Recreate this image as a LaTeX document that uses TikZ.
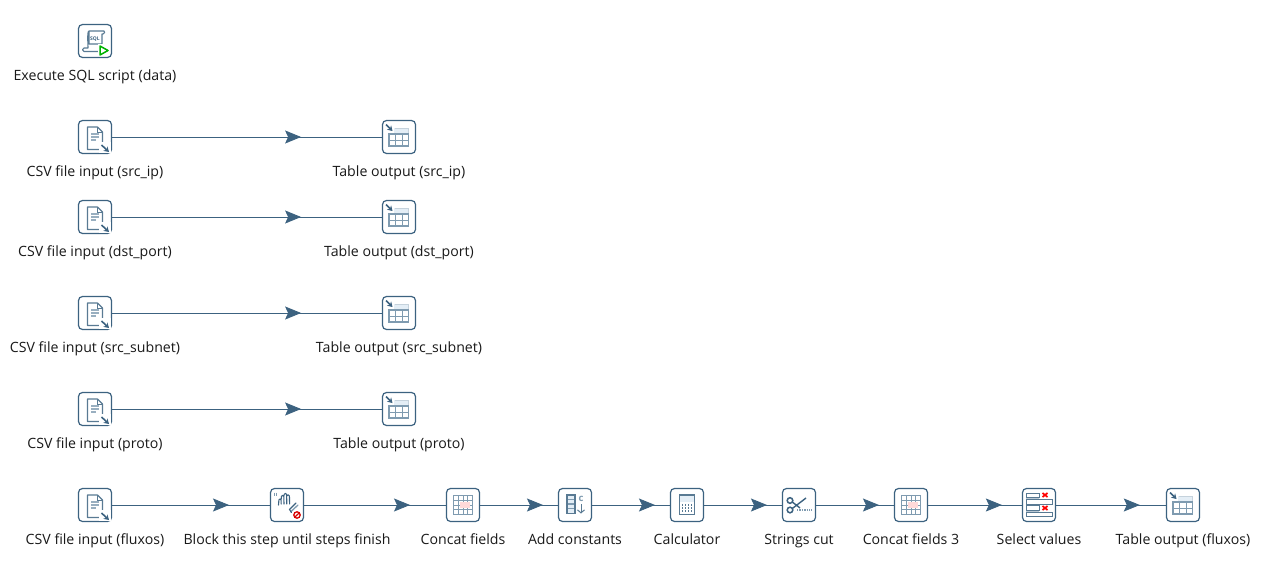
\documentclass[tikz,border=0pt]{standalone}
\usepackage{fontspec}
\setmainfont{Open Sans}
\usetikzlibrary{arrows.meta,decorations.markings,backgrounds}
\definecolor{hop}{HTML}{3C6280}
\definecolor{gl}{HTML}{7F9BB0}
\definecolor{pale}{HTML}{E4EEF6}
\tikzset{
  x=1pt,y=-1pt,
  stepbox/.style={draw=hop,line width=1.2pt,fill=white,rounded corners=4pt,minimum size=33pt,inner sep=0pt,outer sep=0pt},
  lbl/.style={font=\fontsize{14.15}{16}\selectfont,text=black!90,inner sep=0pt,anchor=base},
  link/.style={draw=hop,line width=.85pt,postaction={decorate},decoration={markings,mark=at position #1 with {\arrow[hop]{Stealth[length=16pt,width=13pt,inset=3pt]}}}},
  ic/.style={draw=hop!85,line width=1.2pt},
  ig/.style={draw=gl,line width=1.2pt},
  icsv/.pic={
    \draw[ic,fill=white,line join=round] (-7.5,-10)--(2.5,-10)--(7.5,-5)--(7.5,12.5)--(-7.5,12.5)--cycle;
    \draw[ic,line width=.9pt] (2.5,-10)--(2.5,-5)--(7.5,-5);
    \draw[ig,line width=1.1pt,draw=gl!80] (-4,-3)--(4,-3) (-4,0)--(4,0) (-4,3)--(1,3);
    \fill[white] (4,5) rectangle (16,16.3);
    \draw[hop,line width=1.6pt,-{Stealth[length=5pt,width=6pt]}] (6.5,8)--(14,15);
  },
  itab/.pic={
    \fill[pale] (-10,-9)--(9.5,-9)--(9.5,-3)--(-10,-3)--cycle;
    \draw[gl!45,line width=1pt] (-4,-9)--(9.5,-9)--(9.5,-3);
    \draw[ig] (-10,-3)--(9.5,-3)--(9.5,9)--(-10,9)--cycle;
    \draw[ig,line width=1pt] (-3.5,-3)--(-3.5,9) (3,-3)--(3,9) (-10,3)--(9.5,3);
    \fill[white] (-14,-13) rectangle (-5,-4.5);
    \draw[hop,line width=1.6pt,-{Stealth[length=5pt,width=6pt]}] (-13,-12.5)--(-6.5,-6);
  },
  iconcat/.pic={
    \fill[white] (-9.5,-9.5) rectangle (9.5,9.5);
    \draw[gl,line width=1pt] (-4.75,-9.5)--(-4.75,9.5) (0,-9.5)--(0,9.5) (4.75,-9.5)--(4.75,9.5)
      (-9.5,-4.75)--(9.5,-4.75) (-9.5,0)--(9.5,0) (-9.5,4.75)--(9.5,4.75);
    \fill[red!15] (-3,-3) rectangle (7,3);
    \draw[gl,line width=1.9pt] (-9.5,-9.5) rectangle (9.5,9.5);
  },
  iblock/.pic={
    \draw[gl,line width=1.1pt] (-12.5,-12.5)--(-12.5,-9) (-10.5,-12.5)--(-10.5,-9);
    \draw[hop,line width=1.1pt,line cap=round,line join=round,rounded corners=1pt]
      (-8.5,0)--(-8,-6)--(-6,-6)--(-5.8,-1) (-5.8,-6)--(-5.5,-9.5)--(-3.2,-9.5)--(-3,-1)
      (-3,-9.5)--(-2.7,-11.5)--(-.4,-11.5)--(-.2,-1) (-.2,-9.5)--(0,-10)--(2.4,-10)--(2.6,-1);
    \draw[gl,line width=1.3pt,line cap=round] (11,0)--(3.5,7);
    \draw[hop,line width=1.1pt,line cap=round] (9,-2)--(2.5,4.5)--(4.5,7.5);
    \draw[red!85!black,line width=1.3pt,fill=white] (10,10) circle (3.2);
    \draw[red!85!black,line width=1.2pt] (7.8,12)--(12.2,8);
  },
  iconst/.pic={
    \fill[pale] (-8,-10) rectangle (0,8.5);
    \draw[gl,line width=1.1pt] (-8,-5.5)--(0,-5.5) (-8,-1)--(0,-1) (-8,3.5)--(0,3.5);
    \draw[hop!85,line width=1.2pt] (-8,-10) rectangle (0,8.5);
    \node[font=\bfseries\fontsize{9.5}{9}\selectfont,text=gl,inner sep=0pt] at (6,-6.5) {c};
    \draw[hop!85,line width=1pt,-{Straight Barb[length=3pt,width=7pt]}] (6,-1)--(6,8.5);
  },
  icalc/.pic={
    \fill[pale] (-7.5,-10) rectangle (7.5,-3);
    \draw[hop!85,line width=1.2pt] (-7.5,-10) rectangle (7.5,9.5);
    \foreach \yy in {0,3,6} \foreach \xx in {-4.5,-1.5,1.5,4.5}
      \fill[hop!85] (\xx-.6,\yy-.6) rectangle (\xx+.6,\yy+.6);
  },
  iscis/.pic={
    \draw[hop,line width=1.5pt] (-9,-4.5) circle (2.8) (-9,5) circle (2.8);
    \draw[hop,line width=1.4pt] (-6.7,-3)--(1,3) (-6.7,3.5)--(7,-7);
    \draw[gl,line width=1.5pt,dash pattern=on 1.3pt off 1.1pt] (-2,5)--(13,5);
  },
  iselect/.pic={
    \fill[gl!55] (-13,-8) rectangle (0,-5.5) (-13,-1) rectangle (0,.5) (-13,5) rectangle (0,7);
    \draw[hop!85,line width=1pt] (-13,-12) rectangle (0,-8)  (-13,-5.5) rectangle (13,-1)
      (-13,.5) rectangle (0,5)  (-13,7) rectangle (13,11.5);
    \draw[red,line width=1.7pt] (3.5,-12)--(8.5,-8) (3.5,-8)--(8.5,-12) (3.5,1)--(8.5,5) (3.5,5)--(8.5,1);
  },
  isql/.pic={
    \draw[ic,line width=1.1pt,fill=white,line join=round] (-6,-10)--(9,-10)
      .. controls (10,-10) and (10,-7) .. (8,-7)--(7,-7)--(7,3)
      --(-6,3)--(-6,-10) (-6,-10) .. controls (-8,-10) and (-7,3) .. (-7,7)
      --(-11,7) .. controls (-13,7) and (-13,10.5) .. (-11,10.5)--(4,10.5);
    \node[font=\bfseries\fontsize{5}{5}\selectfont,text=hop,inner sep=0pt] at (0,-1.5) {SQL};
    \fill[white] (3,3) rectangle (13,14);
    \draw[green!70!black,line width=1.5pt,line join=round] (5,5)--(13,9.5)--(5,14)--cycle;
  }
}
\begin{document}
\begin{tikzpicture}
\begin{scope}[on background layer]
\fill[white] (0,0) rectangle (1267,570);
\end{scope}
\useasboundingbox (0,0) rectangle (1267,570);
% steps
\node[stepbox] (sql) at (95,41) {}; \pic at (sql) {isql};
\node[lbl] (sqlt) at (95,80) {Execute SQL script (data)};

\node[stepbox] (c1) at (95,137) {}; \pic at (c1) {icsv};
\node[lbl] (c1t) at (95,176) {CSV file input (src\_ip)};
\node[stepbox] (t1) at (399,137) {}; \pic at (t1) {itab};
\node[lbl] (t1t) at (399,176) {Table output (src\_ip)};

\node[stepbox] (c2) at (95,217) {}; \pic at (c2) {icsv};
\node[lbl] (c2t) at (95,256) {CSV file input (dst\_port)};
\node[stepbox] (t2) at (399,217) {}; \pic at (t2) {itab};
\node[lbl] (t2t) at (399,256) {Table output (dst\_port)};

\node[stepbox] (c3) at (95,313) {}; \pic at (c3) {icsv};
\node[lbl] (c3t) at (95,352) {CSV file input (src\_subnet)};
\node[stepbox] (t3) at (399,313) {}; \pic at (t3) {itab};
\node[lbl] (t3t) at (399,352) {Table output (src\_subnet)};

\node[stepbox] (c4) at (95,409) {}; \pic at (c4) {icsv};
\node[lbl] (c4t) at (95,448) {CSV file input (proto)};
\node[stepbox] (t4) at (399,409) {}; \pic at (t4) {itab};
\node[lbl] (t4t) at (399,448) {Table output (proto)};

\node[stepbox] (c5) at (95,505) {}; \pic at (c5) {icsv};
\node[lbl] (c5t) at (95,544) {CSV file input (fluxos)};
\node[stepbox] (blk) at (287,505) {}; \pic at (blk) {iblock};
\node[lbl] (blkt) at (287,544) {Block this step until steps finish};
\node[stepbox] (cf) at (463,505) {}; \pic at (cf) {iconcat};
\node[lbl] (cft) at (463,544) {Concat fields};
\node[stepbox] (ac) at (575,505) {}; \pic at (ac) {iconst};
\node[lbl] (act) at (575,544) {Add constants};
\node[stepbox] (calc) at (687,505) {}; \pic at (calc) {icalc};
\node[lbl] (calct) at (687,544) {Calculator};
\node[stepbox] (sc) at (799,505) {}; \pic at (sc) {iscis};
\node[lbl] (sct) at (799,544) {Strings cut};
\node[stepbox] (cf3) at (911,505) {}; \pic at (cf3) {iconcat};
\node[lbl] (cf3t) at (911,544) {Concat fields 3};
\node[stepbox] (sv) at (1039,505) {}; \pic at (sv) {iselect};
\node[lbl] (svt) at (1039,544) {Select values};
\node[stepbox] (t5) at (1183,505) {}; \pic at (t5) {itab};
\node[lbl] (t5t) at (1183,544) {Table output (fluxos)};
% hops
\begin{scope}[on background layer]
\foreach \a/\b/\p in {c1/t1/.678,c2/t2/.678,c3/t3/.678,c4/t4/.678,c5/blk/.698,blk/cf/.699,cf/ac/.714,ac/calc/.714,calc/sc/.714,sc/cf3/.714,cf3/sv/.71,sv/t5/.70}
  \draw[link=\p] (\a.center) -- (\b.center);
\end{scope}
\end{tikzpicture}
\end{document}
